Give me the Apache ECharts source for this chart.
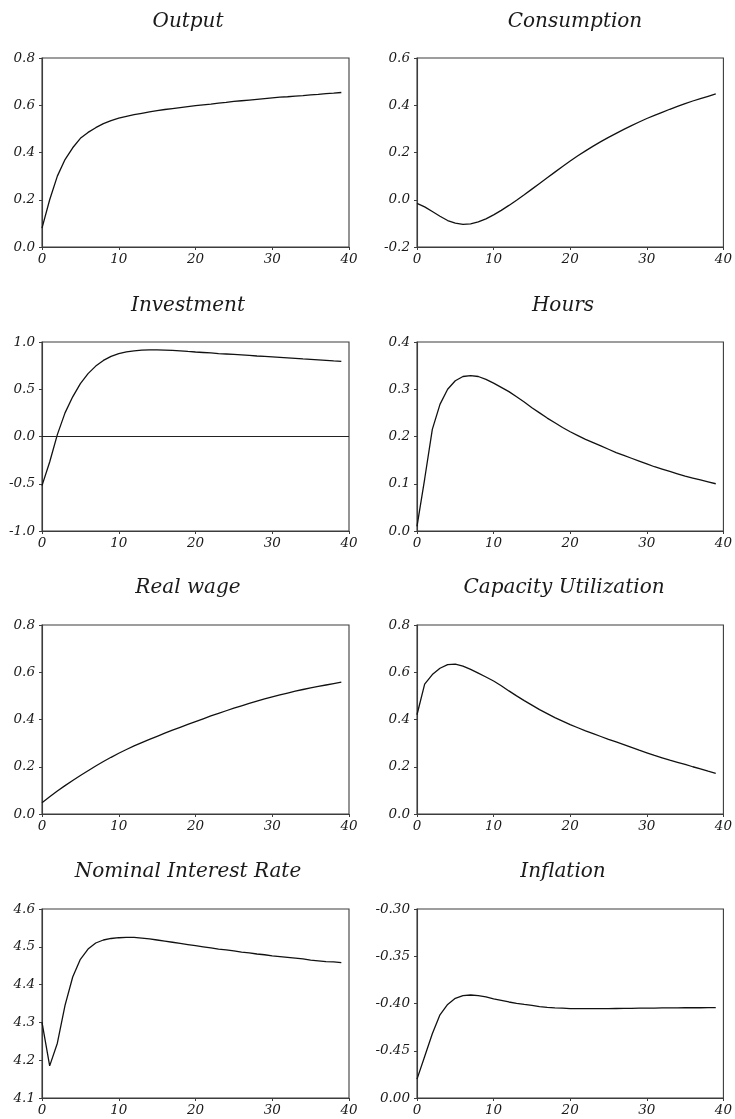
<!DOCTYPE html>
<html>
<head>
<meta charset="utf-8">
<script src="https://cdn.jsdelivr.net/npm/echarts@6/dist/echarts.min.js"></script>
<style>
html,body{margin:0;padding:0;background:#fff;}
#chart{width:735px;height:1119px;}
</style>
</head>
<body>
<div id="chart"></div>
<script>
// ---- data ----
const periods = Array.from({length: 40}, (_, i) => i);
const titles = ['Output','Consumption','Investment','Hours','Real wage','Capacity Utilization','Nominal Interest Rate','Inflation'];
const xTickLabels = ['0','10','20','30','40'];

const outputVals = [0.08,0.20,0.30,0.37,0.42,0.46,0.485,0.505,0.522,0.535,0.545,0.553,0.560,0.566,0.572,0.577,0.582,0.586,0.590,0.594,0.598,0.602,0.605,0.609,0.612,0.616,0.619,0.622,0.625,0.628,0.631,0.634,0.636,0.639,0.641,0.644,0.646,0.649,0.651,0.654];
const consumptionVals = [-0.015,-0.030,-0.050,-0.070,-0.088,-0.099,-0.104,-0.102,-0.094,-0.081,-0.064,-0.045,-0.024,-0.002,0.021,0.045,0.069,0.093,0.117,0.141,0.164,0.186,0.207,0.227,0.246,0.264,0.281,0.298,0.314,0.329,0.344,0.357,0.370,0.383,0.395,0.407,0.418,0.428,0.438,0.448];
const investmentVals = [-0.52,-0.27,0.02,0.25,0.42,0.56,0.665,0.745,0.805,0.848,0.877,0.896,0.907,0.913,0.916,0.916,0.914,0.911,0.907,0.900,0.894,0.889,0.884,0.878,0.873,0.868,0.863,0.858,0.852,0.847,0.842,0.837,0.832,0.827,0.821,0.816,0.811,0.806,0.800,0.795];
const hoursVals = [0.010,0.110,0.215,0.268,0.300,0.318,0.327,0.329,0.327,0.321,0.313,0.304,0.295,0.284,0.273,0.261,0.250,0.239,0.229,0.219,0.210,0.202,0.194,0.187,0.180,0.173,0.166,0.160,0.154,0.148,0.142,0.136,0.131,0.126,0.121,0.116,0.112,0.108,0.104,0.100];
const realWageVals = [0.048,0.073,0.097,0.120,0.142,0.163,0.183,0.203,0.222,0.240,0.257,0.273,0.288,0.302,0.316,0.329,0.342,0.355,0.367,0.379,0.391,0.403,0.415,0.426,0.437,0.448,0.458,0.468,0.478,0.487,0.496,0.504,0.512,0.520,0.527,0.534,0.540,0.546,0.552,0.558];
const capacityVals = [0.420,0.550,0.590,0.617,0.632,0.634,0.626,0.612,0.596,0.580,0.563,0.543,0.521,0.500,0.480,0.461,0.442,0.425,0.408,0.393,0.378,0.365,0.352,0.340,0.328,0.316,0.305,0.294,0.282,0.270,0.259,0.248,0.238,0.228,0.219,0.210,0.200,0.191,0.181,0.172];
const interestVals = [4.300,4.185,4.245,4.345,4.420,4.467,4.494,4.510,4.518,4.522,4.524,4.525,4.525,4.523,4.521,4.518,4.515,4.512,4.509,4.506,4.503,4.500,4.497,4.494,4.492,4.489,4.486,4.484,4.481,4.479,4.476,4.474,4.472,4.470,4.468,4.465,4.463,4.461,4.460,4.458];
const inflationVals = [-0.480,-0.456,-0.432,-0.412,-0.401,-0.3945,-0.3917,-0.391,-0.3917,-0.393,-0.395,-0.3966,-0.3984,-0.3998,-0.401,-0.402,-0.4032,-0.404,-0.4046,-0.405,-0.4054,-0.4055,-0.4055,-0.4055,-0.4055,-0.4054,-0.4053,-0.4052,-0.4051,-0.405,-0.4049,-0.4048,-0.4047,-0.4046,-0.4046,-0.4045,-0.4045,-0.4045,-0.4044,-0.4044];

const outputTicks = ['0.0','0.2','0.4','0.6','0.8'];
const consumptionTicks = ['-0.2','0.0','0.2','0.4','0.6'];
const investmentTicks = ['-1.0','-0.5','0.0','0.5','1.0'];
const hoursTicks = ['0.0','0.1','0.2','0.3','0.4'];
const realWageTicks = ['0.0','0.2','0.4','0.6','0.8'];
const capacityTicks = ['0.0','0.2','0.4','0.6','0.8'];
const interestTicks = ['4.1','4.2','4.3','4.4','4.5','4.6'];
const inflationTicks = ['0.00','-0.45','-0.40','-0.35','-0.30'];

// ---- layout / axis config ----
const allVals = [outputVals, consumptionVals, investmentVals, hoursVals, realWageVals, capacityVals, interestVals, inflationVals];
const allTicks = [outputTicks, consumptionTicks, investmentTicks, hoursTicks, realWageTicks, capacityTicks, interestTicks, inflationTicks];
const yRange = [[0,0.8,0.2],[-0.2,0.6,0.2],[-1,1,0.5],[0,0.4,0.1],[0,0.8,0.2],[0,0.8,0.2],[4.1,4.6,0.1],[-0.5,-0.3,0.05]];
const colLeft = [42, 417];
const rowTop = [58, 342, 625, 909];
const titleX = [188, 575, 188, 563, 188, 564, 188, 563];
const titleY = [22, 306, 588, 872];
const plotW = 307, plotH = 189;

const FONT = '"DejaVu Serif", serif';
const AX = '#3c3c3c';
const grids = [], xAxes = [], yAxes = [], series = [], titleOpts = [];

for (let k = 0; k < 8; k++) {
  const r = Math.floor(k / 2), c = k % 2;
  grids.push({left: colLeft[c], top: rowTop[r], width: plotW, height: plotH, show: true, borderColor: AX, borderWidth: 1.1, backgroundColor: 'transparent', containLabel: false});
  xAxes.push({
    type: 'value', gridIndex: k, min: 0, max: 40, interval: 10,
    axisLine: {show: true, onZero: false, lineStyle: {color: AX, width: 1.1}},
    axisTick: {show: true, length: 3, lineStyle: {color: AX}},
    splitLine: {show: false},
    axisLabel: {margin: 5, color: '#1a1a1a', fontFamily: FONT, fontStyle: 'italic', fontSize: 13.5,
      formatter: v => xTickLabels[Math.round(v / 10)]}
  });
  const [mn, mx, iv] = yRange[k];
  const ticks = allTicks[k];
  yAxes.push({
    type: 'value', gridIndex: k, min: mn, max: mx, interval: iv,
    axisLine: {show: true, onZero: false, lineStyle: {color: AX, width: 1.1}},
    axisTick: {show: true, length: 3, lineStyle: {color: AX}},
    splitLine: {show: false},
    axisLabel: {margin: 7, color: '#1a1a1a', fontFamily: FONT, fontStyle: 'italic', fontSize: 13.5,
      formatter: v => ticks[Math.round((v - mn) / iv)]}
  });
  const s = {
    type: 'line', xAxisIndex: k, yAxisIndex: k, showSymbol: false, symbol: 'none', smooth: false,
    lineStyle: {color: '#111', width: 1.3},
    data: periods.map(i => [i, allVals[k][i]]),
    silent: true
  };
  if (k === 2) {
    s.markLine = {silent: true, symbol: 'none', label: {show: false},
      lineStyle: {color: '#222', width: 1, type: 'solid'}, data: [{yAxis: 0}]};
  }
  series.push(s);
  titleOpts.push({text: titles[k], left: titleX[k], top: titleY[r] - 12, textAlign: 'center', padding: 0,
    textStyle: {fontFamily: FONT, fontStyle: 'italic', fontWeight: 'normal', fontSize: 20, color: '#1a1a1a', lineHeight: 24}});
}

const chart = echarts.init(document.getElementById('chart'), null, {renderer: 'canvas'});
chart.setOption({
  animation: false,
  backgroundColor: '#fff',
  title: titleOpts,
  grid: grids,
  xAxis: xAxes,
  yAxis: yAxes,
  series: series
});
</script>
</body>
</html>
